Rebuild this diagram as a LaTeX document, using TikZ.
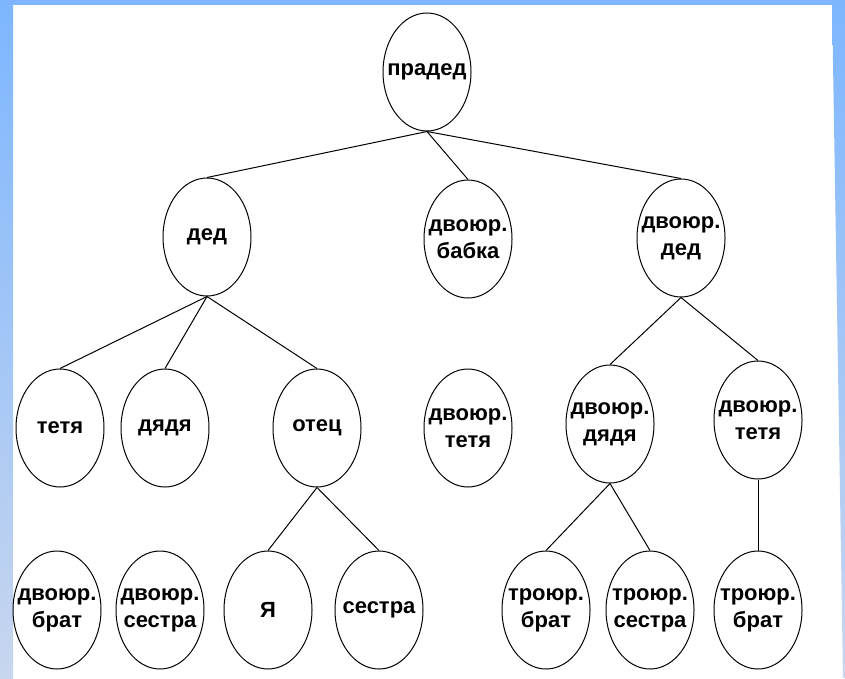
\documentclass[tikz,border=0pt]{standalone}
\usepackage{fontspec}
\setmainfont{Liberation Sans}
\usetikzlibrary{shapes.geometric}
\definecolor{frametop}{RGB}{125,182,255}
\definecolor{framebot}{RGB}{200,214,238}
\tikzset{
  kin/.style={ellipse,draw,line width=1pt,minimum width=88pt,minimum height=118pt,
    inner xsep=-32pt,inner ysep=0pt,align=center,
    font=\fontsize{22}{27}\selectfont\bfseries}
}

\begin{document}
\begin{tikzpicture}[x=1pt,y=-1pt]
    \useasboundingbox (0,0) rectangle (845,678);
    \fill[white] (0,0) rectangle (845,678);
    \shade[top color=frametop,bottom color=framebot] (0,0) rectangle (13,678);
    \shade[top color=frametop,bottom color=framebot] (832,0) -- (845,0) -- (845,678) -- (843,678) -- cycle;
    \fill[frametop] (0,0) rectangle (845,5);
    % generations
    \node[kin] (praded) at (427,72) {прадед};
    \node[kin] (ded) at (207,237) {дед};
    \node[kin] (dbabka) at (468,239) {двоюр.\\бабка};
    \node[kin] (dded) at (681,238) {двоюр.\\дед};
    \node[kin] (tetya) at (60,428) {тетя};
    \node[kin] (dyadya) at (165,428) {дядя};
    \node[kin] (otec) at (317,428) {отец};
    \node[kin] (dtetya) at (468,428) {двоюр.\\тетя};
    \node[kin] (ddyadya) at (610,424) {двоюр.\\дядя};
    \node[kin] (dtetya2) at (758,420) {двоюр.\\тетя};
    \node[kin] (dbrat) at (57,610) {двоюр.\\брат};
    \node[kin] (dsestra) at (160,610) {двоюр.\\сестра};
    \node[kin] (ya) at (268,610) {Я};
    \node[kin] (sestra) at (379,610) {сестра};
    \node[kin] (tbrat) at (546,610) {троюр.\\брат};
    \node[kin] (tsestra) at (650,610) {троюр.\\сестра};
    \node[kin] (tbrat2) at (758,610) {троюр.\\брат};
    % links
    \foreach \a/\b in {praded/ded,praded/dbabka,praded/dded,ded/tetya,ded/dyadya,ded/otec,
      dded/ddyadya,dded/dtetya2,otec/ya,otec/sestra,ddyadya/tbrat,ddyadya/tsestra,dtetya2/tbrat2}
      \draw[line width=1pt] (\a.south) -- (\b.north);
\end{tikzpicture}
\end{document}
